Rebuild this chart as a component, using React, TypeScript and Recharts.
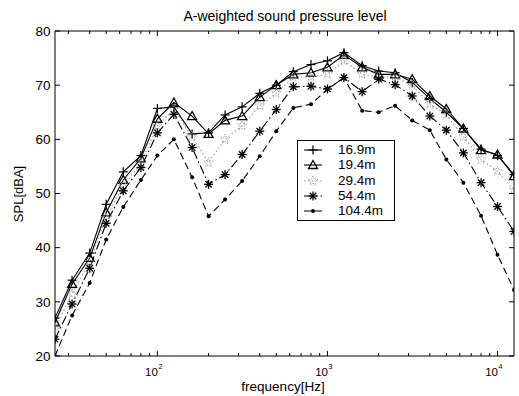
import React from 'react';
import { LineChart, Line, XAxis, YAxis } from 'recharts';

const frequencies = [25, 31.5, 40, 50, 63, 80, 100, 125, 160, 200, 250, 315, 400, 500, 630, 800, 1000, 1250, 1600, 2000, 2500, 3150, 4000, 5000, 6300, 8000, 10000, 12500];
const spl16_9 = [27, 34, 39, 48, 54, 57, 65.7, 66, 61, 61.2, 64.5, 66, 68.5, 70, 72.5, 73.8, 74.5, 76, 73.6, 72.6, 72.3, 70.5, 67.5, 65, 62, 58.2, 57, 53.5];
const spl19_4 = [26.2, 33.3, 38.1, 46.5, 52.5, 56.5, 63.8, 66.8, 64.3, 61, 63.5, 64.3, 67.8, 70, 72, 72.3, 73.3, 75.6, 73.3, 72, 72, 71.1, 68, 65.6, 62, 58, 57.2, 53.2];
const spl29_4 = [25, 31.5, 37.3, 45.5, 51.5, 55.5, 62.5, 65.5, 60.5, 55.7, 60, 62.5, 66.2, 68.5, 71.5, 71.5, 72, 74.5, 72, 71.5, 71.5, 70, 66.5, 64.5, 60.5, 56.3, 54.1, 50.7];
const spl54_4 = [23.1, 29.6, 36.2, 44.5, 50.5, 54.8, 61.2, 64.6, 58.5, 51.7, 53.5, 57.2, 61.5, 65.5, 69.7, 69.8, 69.3, 71.4, 68.8, 71.1, 70.1, 68, 64.3, 61.7, 57.5, 52, 47.6, 43];
const spl104_4 = [20, 27.5, 33.5, 41.5, 47.5, 52.5, 57, 60, 53, 45.8, 48.9, 52.3, 56.9, 61.5, 65.8, 66.5, 69.2, 71.4, 65.3, 65, 66.2, 63.5, 61.7, 56.3, 52, 45.9, 38.7, 32.2];

const seriesNames = ['16.9m', '19.4m', '29.4m', '54.4m', '104.4m'];
const xTicks = [30, 40, 50, 60, 70, 80, 90, 100, 200, 300, 400, 500, 600, 700, 800, 900, 1000, 2000, 3000, 4000, 5000, 6000, 7000, 8000, 9000, 10000];
const majorXTicks = [100, 1000, 10000];
const yTicks = [20, 30, 40, 50, 60, 70, 80];
const titleText = 'A-weighted sound pressure level';
const xLabel = 'frequency[Hz]';
const yLabel = 'SPL[dBA]';

const data = frequencies.map((f, i) => ({
  f,
  s1: spl16_9[i],
  s2: spl19_4[i],
  s3: spl29_4[i],
  s4: spl54_4[i],
  s5: spl104_4[i],
}));

const FONT = '"Liberation Sans", Arial, Helvetica, sans-serif';
const GREY = '#9a9a9a';

const PlusMark = ({ cx, cy }: any) => (
  <g>
    <line x1={cx - 4.5} y1={cy} x2={cx + 4.5} y2={cy} stroke="#000" strokeWidth={1.2} />
    <line x1={cx} y1={cy - 4.5} x2={cx} y2={cy + 4.5} stroke="#000" strokeWidth={1.2} />
  </g>
);
const TriMark = ({ cx, cy }: any) => (
  <polygon points={`${cx},${cy - 4.5} ${cx - 4.5},${cy + 3.5} ${cx + 4.5},${cy + 3.5}`} fill="none" stroke="#000" strokeWidth={1.3} />
);
const starPoints = (cx: number, cy: number, R: number, r: number) => {
  const pts: string[] = [];
  for (let k = 0; k < 10; k++) {
    const a = -Math.PI / 2 + (k * Math.PI) / 5;
    const rad = k % 2 === 0 ? R : r;
    pts.push(`${cx + rad * Math.cos(a)},${cy + rad * Math.sin(a)}`);
  }
  return pts.join(' ');
};
const StarMark = ({ cx, cy }: any) => (
  <polygon points={starPoints(cx, cy, 5, 2.2)} fill="none" stroke={GREY} strokeWidth={1} strokeDasharray="1 1" />
);
const AsteriskMark = ({ cx, cy }: any) => (
  <g stroke="#000" strokeWidth={1.3}>
    <line x1={cx - 4.5} y1={cy} x2={cx + 4.5} y2={cy} />
    <line x1={cx} y1={cy - 4.5} x2={cx} y2={cy + 4.5} />
    <line x1={cx - 3.2} y1={cy - 3.2} x2={cx + 3.2} y2={cy + 3.2} />
    <line x1={cx - 3.2} y1={cy + 3.2} x2={cx + 3.2} y2={cy - 3.2} />
  </g>
);
const PointMark = ({ cx, cy }: any) => <circle cx={cx} cy={cy} r={2} fill="#000" />;

const markers = [PlusMark, TriMark, StarMark, AsteriskMark, PointMark];
const strokes = ['#000', '#000', GREY, '#000', '#000'];
const dashes = [undefined, undefined, '1.5 2.5', '9 3 1.5 3', '7 4'];
const keys = ['s1', 's2', 's3', 's4', 's5'];

const mkDot = (M: any, name: string) => (p: any) => <M key={`${name}-${p.index}`} cx={p.cx} cy={p.cy} />;

const BottomTick = (props: any) => {
  const { x, y, payload } = props;
  const v = payload.value;
  const major = majorXTicks.includes(v);
  return (
    <g>
      <line x1={x} y1={y} x2={x} y2={y - (major ? 5 : 3)} stroke="#000" />
      {major && (
        <text x={x + 0.5} y={y + 19.5} textAnchor="end" fontSize={11.5} fontFamily={FONT} fill="#000">10</text>
      )}
      {major && (
        <text x={x + 1} y={y + 13} fontSize={7} fontFamily={FONT} fill="#000">{Math.round(Math.log10(v))}</text>
      )}
    </g>
  );
};
const TopTick = (props: any) => {
  const { x, y, payload } = props;
  const major = majorXTicks.includes(payload.value);
  return <line x1={x} y1={y} x2={x} y2={y + (major ? 5 : 3)} stroke="#000" />;
};
const LeftTick = (props: any) => {
  const { x, y, payload } = props;
  return (
    <g>
      <line x1={x} y1={y} x2={x + 5} y2={y} stroke="#000" />
      <text x={x - 4.5} y={y + 4.8} textAnchor="end" fontSize={13.5} fontFamily={FONT} fill="#000">{payload.value}</text>
    </g>
  );
};
const RightTick = (props: any) => {
  const { x, y } = props;
  return <line x1={x} y1={y} x2={x - 5} y2={y} stroke="#000" />;
};

export default function App() {
  return (
    <div style={{ position: 'absolute', left: 0, top: 0, width: 519, height: 396, background: '#fff', fontFamily: FONT }}>
      <LineChart width={519} height={396} data={data} margin={{ top: 0, right: 0, bottom: 0, left: 0 }}>
        <XAxis
          dataKey="f"
          type="number"
          scale="log"
          domain={[25, 12500]}
          allowDataOverflow
          ticks={xTicks}
          interval={0}
          height={40}
          tickSize={0}
          tickMargin={0}
          tickLine={false}
          axisLine={{ stroke: '#000' }}
          tick={<BottomTick />}
        />
        <XAxis
          xAxisId="top"
          orientation="top"
          dataKey="f"
          type="number"
          scale="log"
          domain={[25, 12500]}
          allowDataOverflow
          ticks={xTicks}
          interval={0}
          height={31}
          tickSize={0}
          tickMargin={0}
          tickLine={false}
          axisLine={{ stroke: '#000' }}
          tick={<TopTick />}
        />
        <YAxis
          type="number"
          domain={[20, 80]}
          allowDataOverflow
          ticks={yTicks}
          interval={0}
          width={55}
          tickSize={0}
          tickMargin={0}
          tickLine={false}
          axisLine={{ stroke: '#000' }}
          tick={<LeftTick />}
        />
        <YAxis
          yAxisId="right"
          orientation="right"
          type="number"
          domain={[20, 80]}
          allowDataOverflow
          ticks={yTicks}
          interval={0}
          width={5}
          tickSize={0}
          tickMargin={0}
          tickLine={false}
          axisLine={{ stroke: '#000' }}
          tick={<RightTick />}
        />
        {keys.map((k, i) => (
          <Line
            key={k}
            dataKey={k}
            name={seriesNames[i]}
            type="linear"
            stroke={strokes[i]}
            strokeWidth={1.1}
            strokeDasharray={dashes[i]}
            dot={mkDot(markers[i], k)}
            activeDot={false}
            isAnimationActive={false}
          />
        ))}
      </LineChart>

      <div style={{ position: 'absolute', left: 135, width: 300, top: 8, lineHeight: '17px', fontSize: 14, textAlign: 'center', color: '#000' }}>{titleText}</div>
      <div style={{ position: 'absolute', left: 213, width: 140, top: 379, lineHeight: '16px', fontSize: 13.5, textAlign: 'center', color: '#000' }}>{xLabel}</div>
      <div style={{ position: 'absolute', left: -21, width: 80, top: 186, height: 16, lineHeight: '16px', fontSize: 13, textAlign: 'center', transform: 'rotate(-90deg)', color: '#000' }}>{yLabel}</div>

      <div style={{ position: 'absolute', left: 297, top: 140, width: 98, height: 81, boxSizing: 'border-box', border: '1px solid #000', background: '#fff' }}>
        {seriesNames.map((n, i) => {
          const M = markers[i];
          const cy = 10 + i * 15.3 - 1;
          return (
            <div key={n}>
              <svg style={{ position: 'absolute', left: 5, top: cy - 7 }} width={20} height={14}>
                <line x1={1} y1={7} x2={19} y2={7} stroke={strokes[i]} strokeWidth={1.1} strokeDasharray={dashes[i]} />
                <M cx={10} cy={7} />
              </svg>
              <div style={{ position: 'absolute', left: 40, top: cy - 8, lineHeight: '16px', fontSize: 13.5, color: '#000', whiteSpace: 'nowrap' }}>{n}</div>
            </div>
          );
        })}
      </div>
    </div>
  );
}
